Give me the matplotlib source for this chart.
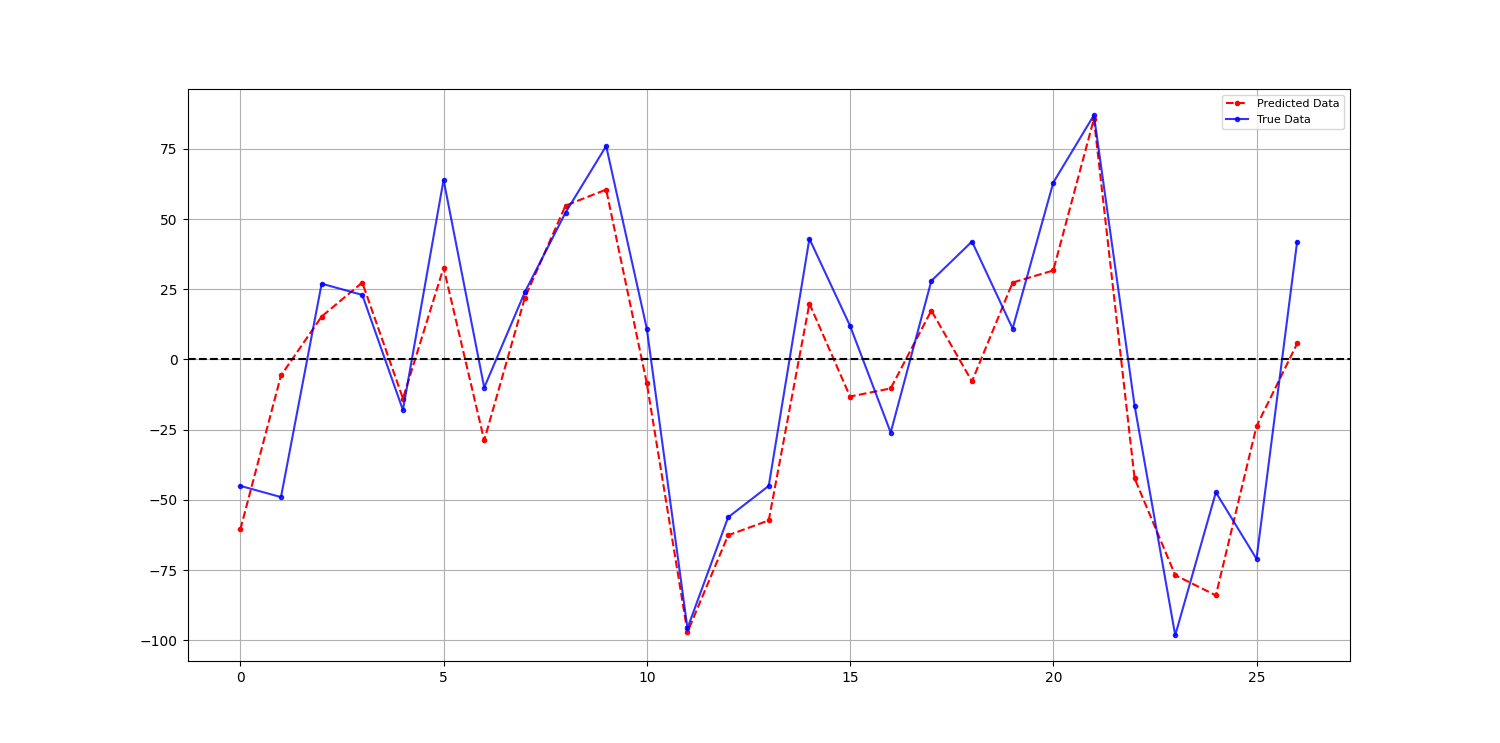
import numpy as np
import matplotlib
matplotlib.use("Agg")
import matplotlib.pyplot as plt

# values
true_data = [-45, -49, 27, 23, -18, 64, -10, 24, 52.3, 76, 11, -95.7, -56.2, -45,
             43, 12, -26, 28, 42, 11, 63, 87, -16.4, -98.2, -47.3, -71, 42]
predicted_data = [-60.5, -5.7, 15.3, 27.4, -13.9, 32.7, -28.8, 22, 54.8, 60.5, -8.5,
                  -97.1, -62.6, -57.3, 19.9, -13.2, -10.3, 17.4, -7.8, 27.4, 31.7,
                  85.7, -42.3, -76.8, -84, -23.8, 5.7]
steps = np.arange(len(true_data))


def main():
    fig, ax = plt.subplots(figsize=(15, 7.43), dpi=100)
    ax.plot(steps, predicted_data, "r--", marker=".", label="Predicted Data")
    ax.plot(steps, true_data, "b-", marker=".", alpha=0.8, label="True Data")
    ax.axhline(0, color="black", linestyle="--")
    ax.grid(True)
    ax.legend(loc="upper right", fontsize=8)
    fig.savefig("out.png")
    plt.close(fig)


if __name__ == "__main__":
    main()
